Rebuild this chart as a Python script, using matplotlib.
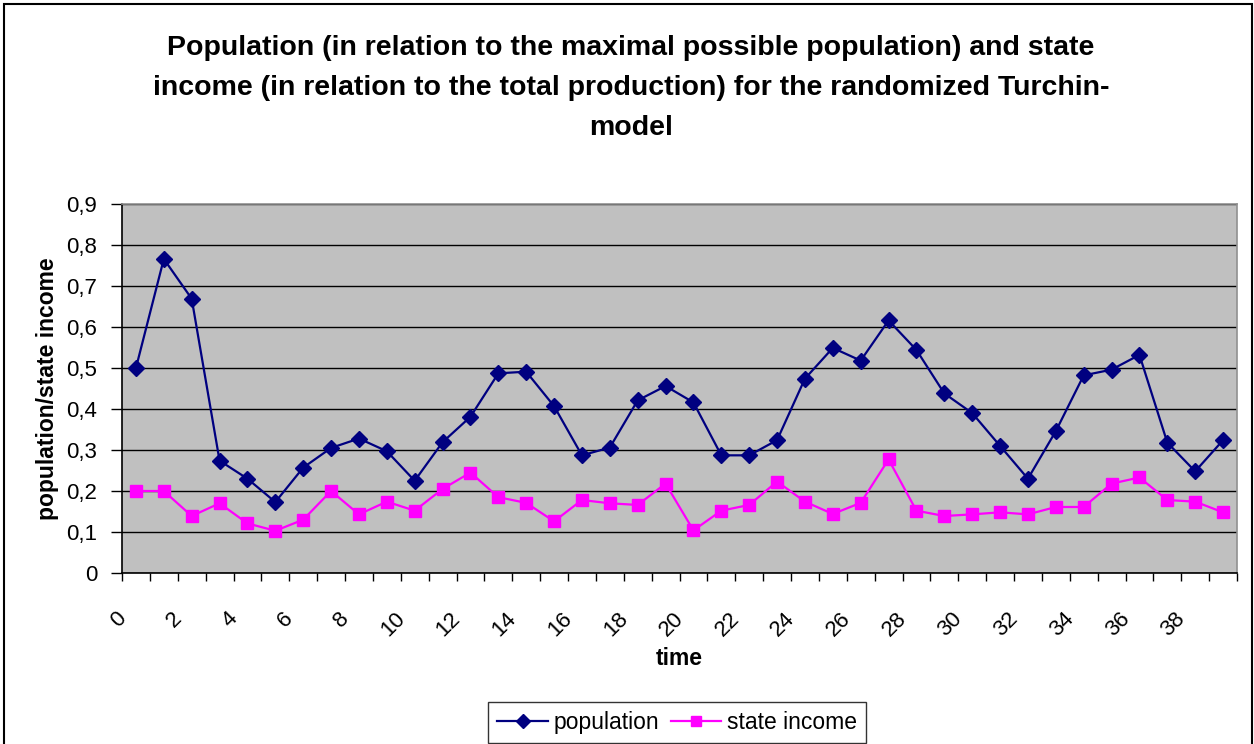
import numpy as np
import matplotlib
matplotlib.use("Agg")
import matplotlib.pyplot as plt
from matplotlib.patches import Rectangle
from matplotlib.ticker import FuncFormatter

plt.rcParams['font.family'] = ['Liberation Sans', 'DejaVu Sans']

time = list(range(40))
population = [0.500, 0.766, 0.669, 0.274, 0.230, 0.173, 0.257, 0.305, 0.328, 0.297,
              0.225, 0.319, 0.381, 0.487, 0.491, 0.407, 0.287, 0.306, 0.421, 0.456,
              0.416, 0.287, 0.287, 0.324, 0.474, 0.549, 0.518, 0.616, 0.544, 0.438,
              0.390, 0.310, 0.230, 0.346, 0.482, 0.496, 0.532, 0.318, 0.248, 0.324]
state_income = [0.200, 0.200, 0.139, 0.170, 0.121, 0.103, 0.130, 0.200, 0.143, 0.174,
                0.152, 0.205, 0.245, 0.185, 0.171, 0.126, 0.178, 0.170, 0.166, 0.218,
                0.104, 0.152, 0.166, 0.223, 0.174, 0.144, 0.171, 0.277, 0.152, 0.139,
                0.143, 0.148, 0.143, 0.161, 0.161, 0.218, 0.233, 0.178, 0.174, 0.148]
title = ("Population (in relation to the maximal possible population) and state\n"
         "income (in relation to the total production) for the randomized Turchin-\n"
         "model")

fig = plt.figure(figsize=(12.54, 7.44), dpi=100)
ax = fig.add_axes([122 / 1254, 1 - 573 / 744, (1237 - 122) / 1254, (573 - 204) / 744])
ax.set_facecolor("#C0C0C0")

# categories sit between tick marks, like an Excel line chart
x = np.array(time) + 0.5
ax.plot(x, population, color="#000080", lw=1.6, marker="D", ms=8,
        label="population", zorder=3)
ax.plot(x, state_income, color="#FF00FF", lw=1.6, marker="s", ms=8.5,
        label="state income", zorder=3)

ax.set_xlim(0, 40)
ax.set_ylim(0, 0.9)
ax.set_yticks(np.arange(0, 0.91, 0.1))
ax.yaxis.set_major_formatter(FuncFormatter(
    lambda v, p: "0" if abs(v) < 1e-9 else ("%.1f" % v).replace(".", ",")))
ax.grid(axis="y", color="black", lw=1)
ax.set_axisbelow(True)

ax.set_xticks(np.arange(0, 41, 1))
ax.set_xticklabels([])
ax.set_xticks(np.arange(0, 40, 2) + 0.3, [str(t) for t in time[::2]], minor=True)
ax.tick_params(axis="x", which="major", direction="out", length=6, width=1)
ax.tick_params(axis="x", which="minor", length=0, pad=25, labelsize=16, labelrotation=45)
for lbl in ax.get_xticklabels(minor=True):
    lbl.set_ha("right")
    lbl.set_va("top")
ax.tick_params(axis="y", direction="out", length=8, width=1, labelsize=16, pad=10)

for s in ["left", "bottom"]:
    ax.spines[s].set_color("black")
    ax.spines[s].set_linewidth(1.2)
for s in ["top", "right"]:
    ax.spines[s].set_color("#909090")
    ax.spines[s].set_linewidth(1.2)

ax.set_xlabel("time", fontsize=16.5, fontweight="bold", labelpad=5)
ax.set_ylabel("population/state income", fontsize=16.5, fontweight="bold", labelpad=5)

fig.text(631 / 1254, 1 - 35 / 744, title, ha="center", va="top", fontsize=20.5,
         fontweight="bold", linespacing=1.7)

leg = fig.legend(loc="lower center", bbox_to_anchor=(677 / 1254, 1 / 744), ncol=2,
                 fontsize=16.5, frameon=True, fancybox=False, edgecolor="black",
                 borderpad=0.4, borderaxespad=0, handlelength=2.2, columnspacing=0.5,
                 handletextpad=0.25, markerscale=0.85)
leg.get_frame().set_linewidth(1)

fig.patches.append(Rectangle((4 / 1254, -0.01), 1248 / 1254, 1 - 4 / 744 + 0.01,
                             transform=fig.transFigure, fill=False,
                             edgecolor="black", lw=1.5))

fig.savefig("out.png", dpi=100)
